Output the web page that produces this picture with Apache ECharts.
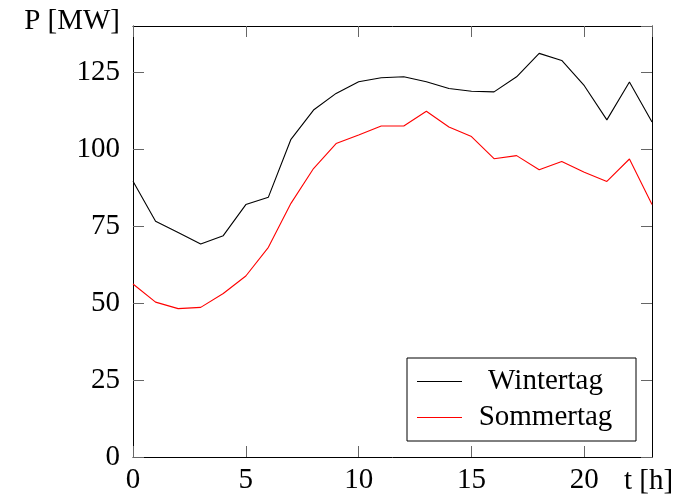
<!DOCTYPE html>
<html>
<head>
<meta charset="utf-8">
<script src="https://cdn.jsdelivr.net/npm/echarts@6/dist/echarts.min.js"></script>
<style>html,body{margin:0;padding:0;background:#fff;}#c{width:679px;height:500px;}</style>
</head>
<body>
<div id="c"></div>
<script>
const hours = [0,1,2,3,4,5,6,7,8,9,10,11,12,13,14,15,16,17,18,19,20,21,22,23];
const winter = [89.6,76.6,72.9,69.2,71.9,82.0,84.4,103.2,112.7,118.1,121.9,123.2,123.5,121.9,119.7,118.8,118.6,123.5,131.1,128.8,120.6,109.5,121.8,108.8];
const summer = [56.2,50.3,48.2,48.6,53.1,58.8,68.1,82.4,93.7,101.8,104.6,107.5,107.5,112.3,107.2,104.1,96.9,97.9,93.3,96.0,92.5,89.5,96.8,82.0];
const xTicks = [0,5,10,15,20];
const yTicks = [0,25,50,75,100,125];

const FONT = 'Liberation Serif';
const FS = 29;
const chart = echarts.init(document.getElementById('c'), null, {renderer: 'canvas'});
const tickStyle = {show: true, inside: true, length: 11, lineStyle: {color: '#666', width: 1}};
const lineAx = {show: true, onZero: false, lineStyle: {color: '#000', width: 1}};
const xBase = {type: 'value', min: 0, max: 23, interval: 5, splitLine: {show: false}, axisLine: lineAx, axisTick: tickStyle};
const yBase = {type: 'value', min: 0, max: 140, interval: 25, splitLine: {show: false}, axisLine: lineAx, axisTick: tickStyle};
chart.setOption({
  animation: false,
  backgroundColor: '#fff',
  grid: {left: 133, right: 27, top: 26, bottom: 43, containLabel: false},
  legend: {
    orient: 'vertical', left: 407, top: 358,
    padding: [9, 12, 9, 10], itemGap: 7,
    borderColor: '#000', borderWidth: 1, backgroundColor: '#fff',
    icon: 'rect', itemWidth: 45, itemHeight: 1,
    data: ['Wintertag', 'Sommertag'],
    formatter: n => '{a|' + n + '}',
    textStyle: {fontFamily: FONT, fontSize: FS, color: '#000',
      rich: {a: {width: 157, align: 'center', fontFamily: FONT, fontSize: FS, lineHeight: 30, color: '#000'}}}
  },
  xAxis: [
    Object.assign({}, xBase, {
      position: 'bottom',
      name: 't [h]', nameLocation: 'end', nameGap: -28,
      nameTextStyle: {fontFamily: FONT, fontSize: FS, color: '#000', align: 'left', verticalAlign: 'top', padding: [10, 0, 0, 0]},
      axisLabel: {show: true, margin: 9, fontFamily: FONT, fontSize: FS, color: '#000', showMaxLabel: false,
        formatter: v => xTicks.includes(v) ? String(v) : ''}
    }),
    Object.assign({}, xBase, {position: 'top', axisLabel: {show: false}})
  ],
  yAxis: [
    Object.assign({}, yBase, {
      position: 'left',
      name: 'P [MW]', nameLocation: 'end', nameGap: 5,
      nameTextStyle: {fontFamily: FONT, fontSize: FS, color: '#000', align: 'right', verticalAlign: 'middle', padding: [0, 13, 0, 0]},
      axisLabel: {show: true, margin: 13, fontFamily: FONT, fontSize: FS, color: '#000', showMaxLabel: false,
        formatter: v => yTicks.includes(v) ? String(v) : ''}
    }),
    Object.assign({}, yBase, {position: 'right', axisLabel: {show: false}})
  ],
  series: [
    {name: 'Wintertag', type: 'line', symbol: 'none', data: hours.map((h, i) => [h, winter[i]]),
      lineStyle: {color: '#000', width: 1.1}, itemStyle: {color: '#000'}},
    {name: 'Sommertag', type: 'line', symbol: 'none', data: hours.map((h, i) => [h, summer[i]]),
      lineStyle: {color: '#ff0000', width: 1.1}, itemStyle: {color: '#ff0000'}}
  ]
});
</script>
</body>
</html>
